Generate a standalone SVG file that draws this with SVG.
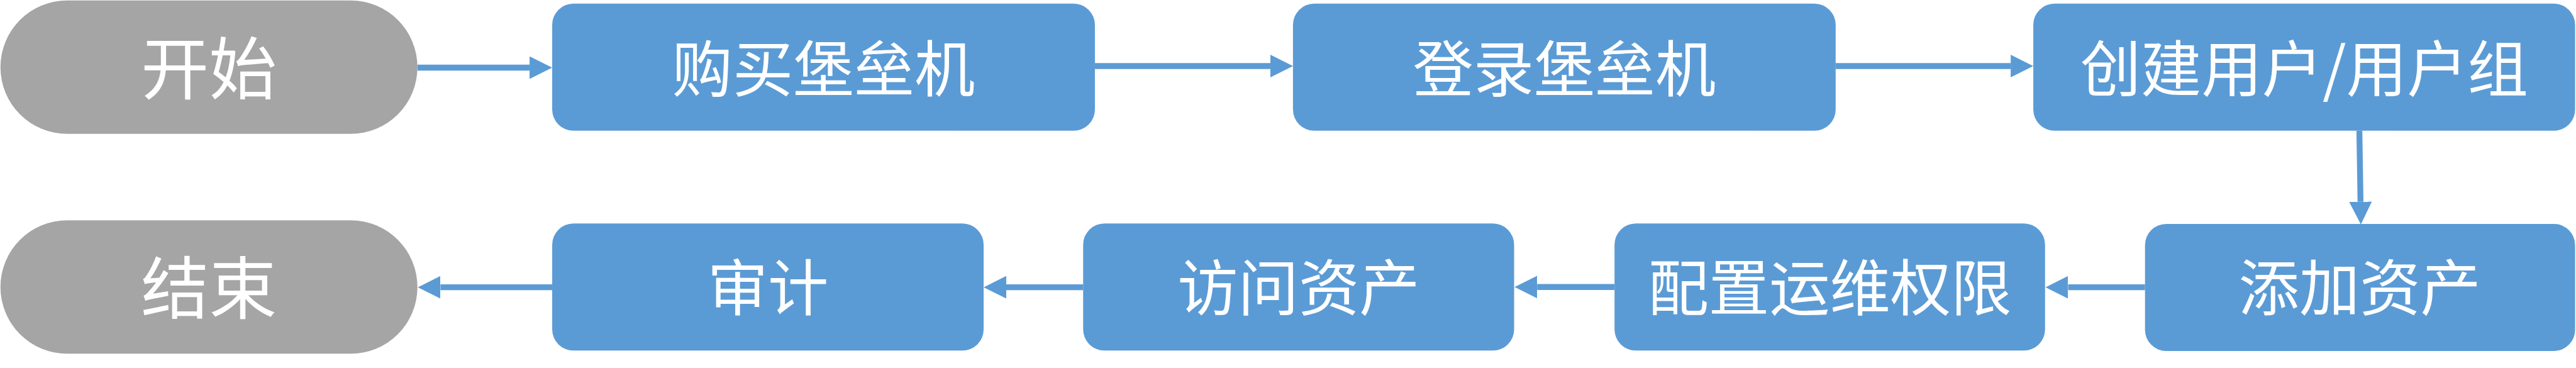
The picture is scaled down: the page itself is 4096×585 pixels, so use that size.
<svg xmlns="http://www.w3.org/2000/svg" width="4096" height="585" viewBox="0 0 4096 585">
<style>
.term{fill:#A5A5A5;}
.proc{fill:#5B9BD5;}
.lbl{fill:#FFFFFF;font-family:"Noto Sans CJK SC","Noto Sans",sans-serif;font-size:134px;text-anchor:middle;}
.big{font-size:150px;}
.conn{stroke:#5B9BD5;stroke-width:13;fill:none;}
</style>
<defs>
<marker id="arr" viewBox="0 0 50 50" markerWidth="50" markerHeight="50" markerUnits="userSpaceOnUse" refX="0" refY="25" orient="auto">
<path d="M0,0 L50,25 L0,50 Z" fill="#5B9BD5"/>
</marker>
</defs>
<rect width="4096" height="585" fill="#FFFFFF"/>
<g transform="scale(0.71910112)">
<g id="connectors">
<line class="conn" x1="923" y1="149.5" x2="1171" y2="149.5" marker-end="url(#arr)"/>
<line class="conn" x1="2421" y1="146" x2="2809" y2="146" marker-end="url(#arr)"/>
<line class="conn" x1="4059" y1="146" x2="4446" y2="146" marker-end="url(#arr)"/>
<line class="conn" x1="5217" y1="289" x2="5219.5" y2="446" marker-end="url(#arr)"/>
<line class="conn" x1="4743" y1="635" x2="4573" y2="635" marker-end="url(#arr)"/>
<line class="conn" x1="3570" y1="634.5" x2="3399" y2="634.5" marker-end="url(#arr)"/>
<line class="conn" x1="2395" y1="635" x2="2225" y2="635" marker-end="url(#arr)"/>
<line class="conn" x1="1221" y1="635" x2="974" y2="635" marker-end="url(#arr)"/>
</g>
<g id="start">
<rect class="term" x="1" y="1" width="922" height="295" rx="147.5" ry="147.5"/>
<text class="lbl big" x="462" y="207">开始</text>
</g>
<g id="buy">
<rect class="proc" x="1221" y="8" width="1200" height="281" rx="47" ry="47"/>
<text class="lbl" x="1821" y="201">购买堡垒机</text>
</g>
<g id="login">
<rect class="proc" x="2859" y="8" width="1200" height="281" rx="47" ry="47"/>
<text class="lbl" x="3459" y="201">登录堡垒机</text>
</g>
<g id="create">
<rect class="proc" x="4496" y="8" width="1198" height="281" rx="47" ry="47"/>
<text class="lbl" x="5095" y="201">创建用户/用户组</text>
</g>
<g id="addasset">
<rect class="proc" x="4743" y="495" width="951" height="281" rx="47" ry="47"/>
<text class="lbl" x="5218" y="686">添加资产</text>
</g>
<g id="config">
<rect class="proc" x="3570" y="494" width="952" height="281" rx="47" ry="47"/>
<text class="lbl" x="4046" y="686">配置运维权限</text>
</g>
<g id="access">
<rect class="proc" x="2395" y="494" width="953" height="281" rx="47" ry="47"/>
<text class="lbl" x="2871.5" y="686">访问资产</text>
</g>
<g id="audit">
<rect class="proc" x="1221" y="494" width="954" height="281" rx="47" ry="47"/>
<text class="lbl" x="1698" y="686">审计</text>
</g>
<g id="end">
<rect class="term" x="1" y="487" width="922" height="295" rx="147.5" ry="147.5"/>
<text class="lbl big" x="462" y="692">结束</text>
</g>
</g>
</svg>
